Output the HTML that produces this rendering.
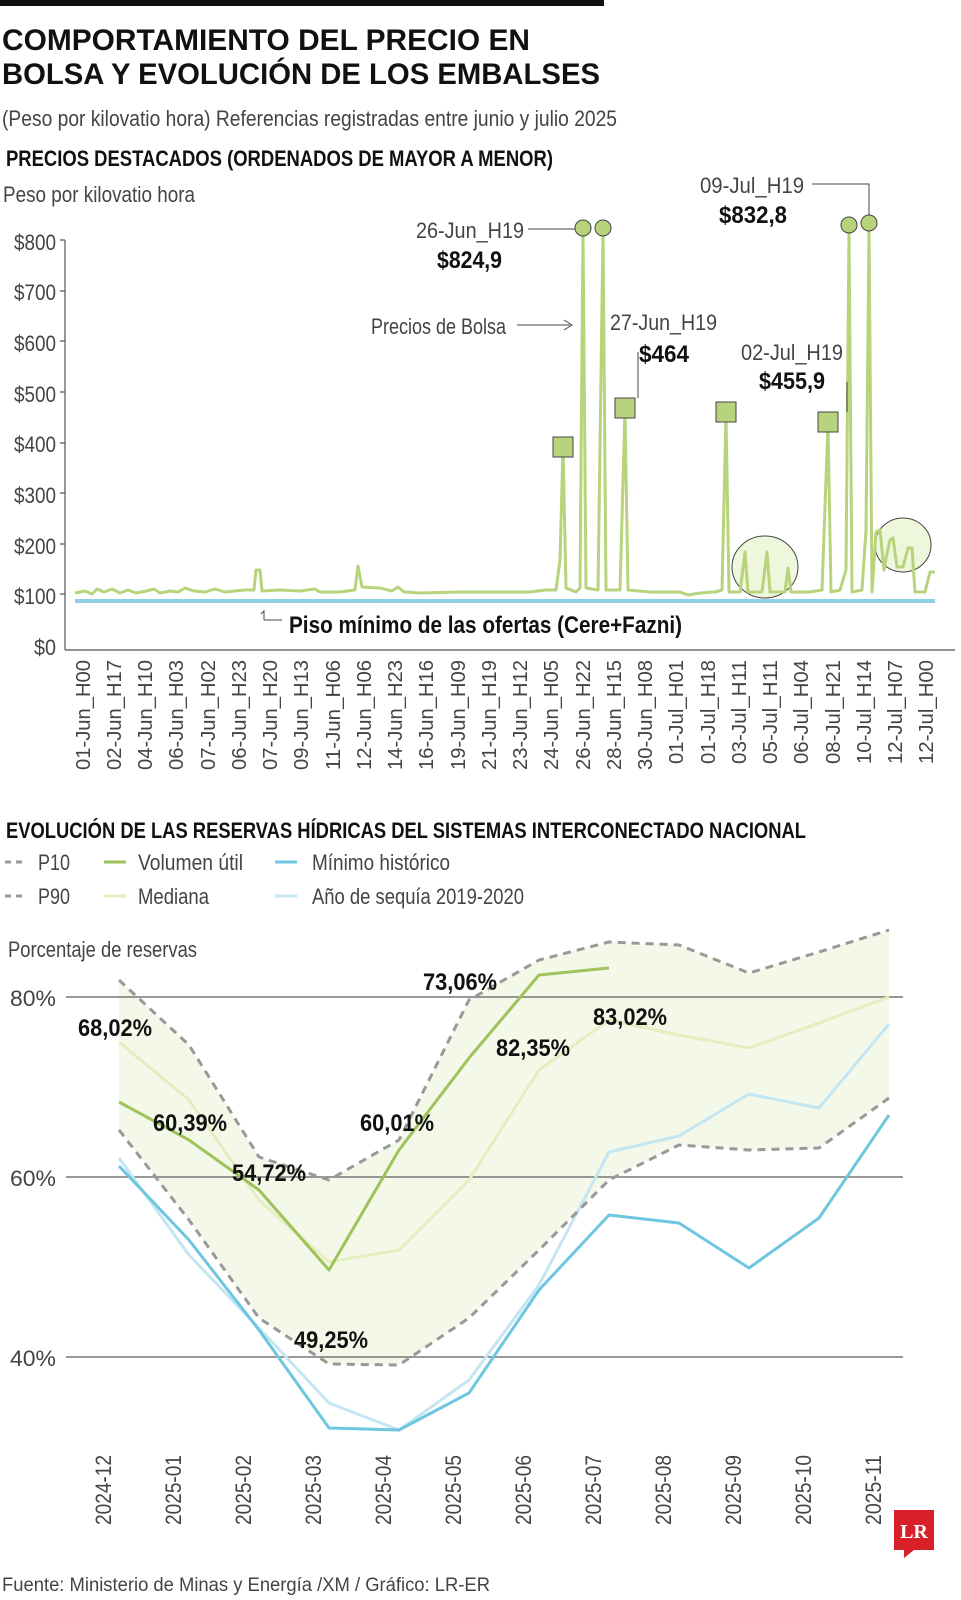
<!DOCTYPE html>
<html><head><meta charset="utf-8"><style>
html,body{margin:0;padding:0;background:#fff;}
svg{display:block;font-family:"Liberation Sans Narrow","Liberation Sans",sans-serif;}
.t{font-weight:bold;fill:#111;}
.g{fill:#444;}
</style></head><body>
<svg width="961" height="1600" viewBox="0 0 961 1600" xmlns="http://www.w3.org/2000/svg">
<rect x="0" y="0" width="604" height="6" fill="#111"/>
<text x="2" y="50" class="t" font-size="30" textLength="528" lengthAdjust="spacingAndGlyphs">COMPORTAMIENTO DEL PRECIO EN</text>
<text x="2" y="84" class="t" font-size="30" textLength="598" lengthAdjust="spacingAndGlyphs">BOLSA Y EVOLUCIÓN DE LOS EMBALSES</text>
<text x="2" y="126" class="g" font-size="22" textLength="615" lengthAdjust="spacingAndGlyphs">(Peso por kilovatio hora)    Referencias registradas entre junio y julio 2025</text>
<text x="6" y="166" class="t" font-size="22" textLength="547" lengthAdjust="spacingAndGlyphs">PRECIOS DESTACADOS (ORDENADOS DE MAYOR A MENOR)</text>
<text x="3" y="202" class="g" font-size="22" textLength="192" lengthAdjust="spacingAndGlyphs">Peso por kilovatio hora</text>
<g class="g" font-size="22" text-anchor="end">
<text x="56" y="250" textLength="42" lengthAdjust="spacingAndGlyphs">$800</text><text x="56" y="300" textLength="42" lengthAdjust="spacingAndGlyphs">$700</text><text x="56" y="351" textLength="42" lengthAdjust="spacingAndGlyphs">$600</text><text x="56" y="402" textLength="42" lengthAdjust="spacingAndGlyphs">$500</text><text x="56" y="452" textLength="42" lengthAdjust="spacingAndGlyphs">$400</text><text x="56" y="503" textLength="42" lengthAdjust="spacingAndGlyphs">$300</text><text x="56" y="554" textLength="42" lengthAdjust="spacingAndGlyphs">$200</text><text x="56" y="604" textLength="42" lengthAdjust="spacingAndGlyphs">$100</text><text x="56" y="655" textLength="22" lengthAdjust="spacingAndGlyphs">$0</text>
</g>
<g stroke="#555" stroke-width="1.2">
<line x1="65" y1="240" x2="65" y2="650"/><line x1="65" y1="650" x2="955" y2="650"/>
<line x1="60" y1="240" x2="65" y2="240"/><line x1="60" y1="291" x2="65" y2="291"/><line x1="60" y1="341" x2="65" y2="341"/><line x1="60" y1="392" x2="65" y2="392"/><line x1="60" y1="443" x2="65" y2="443"/><line x1="60" y1="493" x2="65" y2="493"/><line x1="60" y1="544" x2="65" y2="544"/><line x1="60" y1="594" x2="65" y2="594"/>
</g>
<ellipse cx="765" cy="567" rx="33" ry="31" fill="#eef6dc" stroke="#444" stroke-width="1"/>
<ellipse cx="903" cy="545" rx="28" ry="27" fill="#eef6dc" stroke="#444" stroke-width="1"/>
<line x1="75" y1="601" x2="935" y2="601" stroke="#8fd0e6" stroke-width="4"/>
<polyline fill="none" stroke="#b7d47c" stroke-width="3" stroke-linejoin="round" points="75,593 85,591 92,594 97,589 104,592 112,589 120,593 128,590 136,593 146,591 154,589 160,593 170,591 178,592 185,588 194,591 205,592 215,589 225,592 235,591 245,590 254,590 256,570 260,570 262,591 280,590 300,591 315,589 320,592 340,592 355,590 358,566 362,587 380,588 392,591 398,587 404,592 420,593 460,592 500,592 530,592 545,590 556,590 560,560 563,447 566,588 576,592 580,588 583,230 586,588 598,590 603,230 606,590 620,590 625,410 628,590 650,592 680,592 688,595 700,593 715,592 722,590 726,414 729,592 740,592 745,552 748,592 762,592 767,552 770,592 785,592 788,568 791,592 810,592 822,590 828,424 831,592 840,590 846,570 849,230 852,592 862,590 866,530 869,228 872,592 876,532 880,530 884,570 886,558 890,540 893,538 897,567 903,567 908,548 912,548 915,592 925,592 930,572 935,572"/>
<g fill="#b7d47c" stroke="#444" stroke-width="1">
<rect x="553" y="437" width="20" height="20"/><rect x="615" y="398" width="20" height="20"/><rect x="716" y="402" width="20" height="20"/><rect x="818" y="412" width="20" height="20"/>
<ellipse cx="583" cy="228" rx="8" ry="8"/><ellipse cx="603" cy="228" rx="8" ry="8"/><ellipse cx="849" cy="225" rx="8" ry="8"/><ellipse cx="869" cy="223" rx="8" ry="8"/>
</g>
<g stroke="#444" stroke-width="1" fill="none">
<polyline points="528,229 575,229"/><polyline points="812,184 869,184 869,215"/><line x1="638" y1="352" x2="638" y2="398"/><line x1="847" y1="382" x2="847" y2="412"/>
<line x1="517" y1="325" x2="570" y2="325"/><polyline points="564,320 572,325 564,330"/>
<polyline points="264,620 264,611 261,614 M264,611 267,614"/><line x1="264" y1="620" x2="282" y2="620"/>
</g>
<g class="g" font-size="22">
<text x="416" y="238" textLength="108" lengthAdjust="spacingAndGlyphs">26-Jun_H19</text><text x="371" y="334" textLength="135" lengthAdjust="spacingAndGlyphs">Precios de Bolsa</text><text x="610" y="330" textLength="107" lengthAdjust="spacingAndGlyphs">27-Jun_H19</text><text x="741" y="360" textLength="102" lengthAdjust="spacingAndGlyphs">02-Jul_H19</text><text x="700" y="193" textLength="104" lengthAdjust="spacingAndGlyphs">09-Jul_H19</text>
</g>
<g class="t" font-size="24">
<text x="437" y="268" textLength="65" lengthAdjust="spacingAndGlyphs">$824,9</text><text x="639" y="362" textLength="50" lengthAdjust="spacingAndGlyphs">$464</text><text x="759" y="389" textLength="66" lengthAdjust="spacingAndGlyphs">$455,9</text><text x="719" y="223" textLength="68" lengthAdjust="spacingAndGlyphs">$832,8</text>
<text x="289" y="633" textLength="393" lengthAdjust="spacingAndGlyphs">Piso mínimo de las ofertas (Cere+Fazni)</text>
</g>
<g class="g" font-size="20" text-anchor="end">
<text transform="translate(90,660) rotate(-90)" textLength="110" lengthAdjust="spacingAndGlyphs">01-Jun_H00</text>
<text transform="translate(121,660) rotate(-90)" textLength="110" lengthAdjust="spacingAndGlyphs">02-Jun_H17</text>
<text transform="translate(152,660) rotate(-90)" textLength="110" lengthAdjust="spacingAndGlyphs">04-Jun_H10</text>
<text transform="translate(183,660) rotate(-90)" textLength="110" lengthAdjust="spacingAndGlyphs">06-Jun_H03</text>
<text transform="translate(215,660) rotate(-90)" textLength="110" lengthAdjust="spacingAndGlyphs">07-Jun_H02</text>
<text transform="translate(246,660) rotate(-90)" textLength="110" lengthAdjust="spacingAndGlyphs">06-Jun_H23</text>
<text transform="translate(277,660) rotate(-90)" textLength="110" lengthAdjust="spacingAndGlyphs">07-Jun_H20</text>
<text transform="translate(308,660) rotate(-90)" textLength="110" lengthAdjust="spacingAndGlyphs">09-Jun_H13</text>
<text transform="translate(340,660) rotate(-90)" textLength="110" lengthAdjust="spacingAndGlyphs">11-Jun_H06</text>
<text transform="translate(371,660) rotate(-90)" textLength="110" lengthAdjust="spacingAndGlyphs">12-Jun_H06</text>
<text transform="translate(402,660) rotate(-90)" textLength="110" lengthAdjust="spacingAndGlyphs">14-Jun_H23</text>
<text transform="translate(433,660) rotate(-90)" textLength="110" lengthAdjust="spacingAndGlyphs">16-Jun_H16</text>
<text transform="translate(465,660) rotate(-90)" textLength="110" lengthAdjust="spacingAndGlyphs">19-Jun_H09</text>
<text transform="translate(496,660) rotate(-90)" textLength="110" lengthAdjust="spacingAndGlyphs">21-Jun_H19</text>
<text transform="translate(527,660) rotate(-90)" textLength="110" lengthAdjust="spacingAndGlyphs">23-Jun_H12</text>
<text transform="translate(558,660) rotate(-90)" textLength="110" lengthAdjust="spacingAndGlyphs">24-Jun_H05</text>
<text transform="translate(590,660) rotate(-90)" textLength="110" lengthAdjust="spacingAndGlyphs">26-Jun_H22</text>
<text transform="translate(621,660) rotate(-90)" textLength="110" lengthAdjust="spacingAndGlyphs">28-Jun_H15</text>
<text transform="translate(652,660) rotate(-90)" textLength="110" lengthAdjust="spacingAndGlyphs">30-Jun_H08</text>
<text transform="translate(683,660) rotate(-90)" textLength="104" lengthAdjust="spacingAndGlyphs">01-Jul_H01</text>
<text transform="translate(715,660) rotate(-90)" textLength="104" lengthAdjust="spacingAndGlyphs">01-Jul_H18</text>
<text transform="translate(746,660) rotate(-90)" textLength="104" lengthAdjust="spacingAndGlyphs">03-Jul_H11</text>
<text transform="translate(777,660) rotate(-90)" textLength="104" lengthAdjust="spacingAndGlyphs">05-Jul_H11</text>
<text transform="translate(808,660) rotate(-90)" textLength="104" lengthAdjust="spacingAndGlyphs">06-Jul_H04</text>
<text transform="translate(840,660) rotate(-90)" textLength="104" lengthAdjust="spacingAndGlyphs">08-Jul_H21</text>
<text transform="translate(871,660) rotate(-90)" textLength="104" lengthAdjust="spacingAndGlyphs">10-Jul_H14</text>
<text transform="translate(902,660) rotate(-90)" textLength="104" lengthAdjust="spacingAndGlyphs">12-Jul_H07</text>
<text transform="translate(933,660) rotate(-90)" textLength="104" lengthAdjust="spacingAndGlyphs">12-Jul_H00</text>
</g>
<text x="6" y="838" class="t" font-size="22" textLength="800" lengthAdjust="spacingAndGlyphs">EVOLUCIÓN DE LAS RESERVAS HÍDRICAS DEL SISTEMAS INTERCONECTADO NACIONAL</text>
<g stroke-width="3">
<line x1="5" y1="862" x2="27" y2="862" stroke="#999" stroke-dasharray="6,5"/>
<line x1="5" y1="896" x2="27" y2="896" stroke="#999" stroke-dasharray="6,5"/>
<line x1="104" y1="862" x2="126" y2="862" stroke="#9dc35a"/>
<line x1="104" y1="896" x2="126" y2="896" stroke="#e4eec0"/>
<line x1="275" y1="862" x2="297" y2="862" stroke="#6ec6e0"/>
<line x1="275" y1="896" x2="297" y2="896" stroke="#c4e6f2"/>
</g>
<g class="g" font-size="22">
<text x="38" y="870" textLength="32" lengthAdjust="spacingAndGlyphs">P10</text><text x="38" y="904" textLength="32" lengthAdjust="spacingAndGlyphs">P90</text><text x="138" y="870" textLength="105" lengthAdjust="spacingAndGlyphs">Volumen útil</text><text x="138" y="904" textLength="71" lengthAdjust="spacingAndGlyphs">Mediana</text><text x="312" y="870" textLength="138" lengthAdjust="spacingAndGlyphs">Mínimo histórico</text><text x="312" y="904" textLength="212" lengthAdjust="spacingAndGlyphs">Año de sequía 2019-2020</text>
<text x="8" y="957" textLength="189" lengthAdjust="spacingAndGlyphs">Porcentaje de reservas</text>
<text x="10" y="1006" textLength="46" lengthAdjust="spacingAndGlyphs">80%</text><text x="10" y="1186" textLength="46" lengthAdjust="spacingAndGlyphs">60%</text><text x="10" y="1366" textLength="46" lengthAdjust="spacingAndGlyphs">40%</text>
</g>
<polygon fill="#f4f8e8" points="119,980 189,1045 259,1157 329,1180 399,1140 469,1000 539,960 609,942 679,945 749,973 819,952 889,930 889,1098 819,1148 749,1150 679,1145 609,1180 539,1250 469,1318 399,1365 329,1364 259,1318 189,1220 119,1130"/>
<g stroke="#777" stroke-width="1.5">
<line x1="66" y1="997" x2="903" y2="997"/><line x1="66" y1="1177" x2="903" y2="1177"/><line x1="66" y1="1357" x2="903" y2="1357"/>
</g>
<g fill="none" stroke-width="3" stroke-linejoin="round">
<polyline stroke="#c4e6f2" points="119,1158 189,1255 259,1328 329,1403 399,1430 469,1380 539,1285 609,1152 679,1136 749,1094 819,1108 889,1024"/>
<polyline stroke="#6ec6e0" points="119,1166 189,1240 259,1330 329,1428 399,1430 469,1393 539,1290 609,1215 679,1223 749,1268 819,1218 889,1115"/>
<polyline stroke="#e4eec0" points="119,1042 189,1100 259,1200 329,1262 399,1250 469,1180 539,1070 609,1020 679,1035 749,1048 819,1023 889,997"/>
<polyline stroke="#999" stroke-dasharray="8,6" points="119,980 189,1045 259,1157 329,1180 399,1140 469,1000 539,960 609,942 679,945 749,973 819,952 889,930"/>
<polyline stroke="#999" stroke-dasharray="8,6" points="119,1130 189,1220 259,1318 329,1364 399,1365 469,1318 539,1250 609,1180 679,1145 749,1150 819,1148 889,1098"/>
<polyline stroke="#9dc35a" points="119,1102 189,1140 259,1190 329,1270 399,1150 469,1058 539,975 609,968"/>
</g>
<g class="t" font-size="24">
<text x="78" y="1036" textLength="74" lengthAdjust="spacingAndGlyphs">68,02%</text><text x="153" y="1131" textLength="74" lengthAdjust="spacingAndGlyphs">60,39%</text><text x="232" y="1181" textLength="74" lengthAdjust="spacingAndGlyphs">54,72%</text><text x="294" y="1348" textLength="74" lengthAdjust="spacingAndGlyphs">49,25%</text><text x="360" y="1131" textLength="74" lengthAdjust="spacingAndGlyphs">60,01%</text><text x="423" y="990" textLength="74" lengthAdjust="spacingAndGlyphs">73,06%</text><text x="496" y="1056" textLength="74" lengthAdjust="spacingAndGlyphs">82,35%</text><text x="593" y="1025" textLength="74" lengthAdjust="spacingAndGlyphs">83,02%</text>
</g>
<g class="g" font-size="22">
<text transform="translate(111,1525) rotate(-90)" textLength="70" lengthAdjust="spacingAndGlyphs">2024-12</text>
<text transform="translate(181,1525) rotate(-90)" textLength="70" lengthAdjust="spacingAndGlyphs">2025-01</text>
<text transform="translate(251,1525) rotate(-90)" textLength="70" lengthAdjust="spacingAndGlyphs">2025-02</text>
<text transform="translate(321,1525) rotate(-90)" textLength="70" lengthAdjust="spacingAndGlyphs">2025-03</text>
<text transform="translate(391,1525) rotate(-90)" textLength="70" lengthAdjust="spacingAndGlyphs">2025-04</text>
<text transform="translate(461,1525) rotate(-90)" textLength="70" lengthAdjust="spacingAndGlyphs">2025-05</text>
<text transform="translate(531,1525) rotate(-90)" textLength="70" lengthAdjust="spacingAndGlyphs">2025-06</text>
<text transform="translate(601,1525) rotate(-90)" textLength="70" lengthAdjust="spacingAndGlyphs">2025-07</text>
<text transform="translate(671,1525) rotate(-90)" textLength="70" lengthAdjust="spacingAndGlyphs">2025-08</text>
<text transform="translate(741,1525) rotate(-90)" textLength="70" lengthAdjust="spacingAndGlyphs">2025-09</text>
<text transform="translate(811,1525) rotate(-90)" textLength="70" lengthAdjust="spacingAndGlyphs">2025-10</text>
<text transform="translate(881,1525) rotate(-90)" textLength="70" lengthAdjust="spacingAndGlyphs">2025-11</text>
</g>
<text x="2" y="1591" class="g" font-size="19" textLength="488" lengthAdjust="spacingAndGlyphs">Fuente: Ministerio de Minas y Energía /XM / Gráfico: LR-ER</text>
<rect x="894" y="1510" width="40" height="40" fill="#d8202a"/>
<polygon points="904,1550 914,1550 904,1558" fill="#d8202a"/>
<text x="914" y="1538" text-anchor="middle" font-family="Liberation Serif,serif" font-weight="bold" font-size="20" fill="#fff">LR</text>
</svg>
</body></html>
